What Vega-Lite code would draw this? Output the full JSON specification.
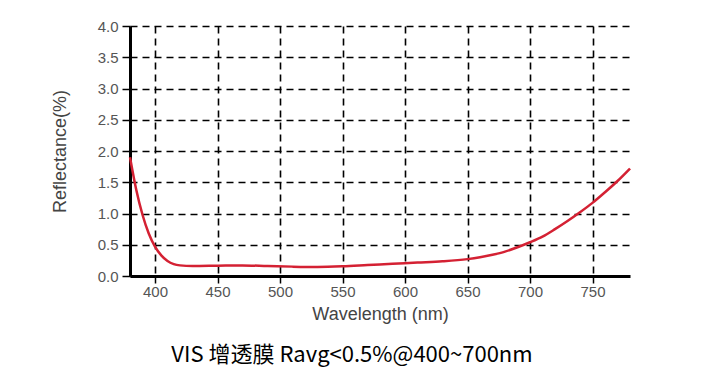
{
  "$schema": "https://vega.github.io/schema/vega-lite/v6.json",
  "width": 500,
  "height": 250,
  "autosize": {"type": "none"},
  "padding": {"left": 130, "top": 26, "right": 95, "bottom": 98},
  "background": "white",
  "title": {
    "text": "VIS 增透膜 Ravg<0.5%@400~700nm",
    "orient": "bottom",
    "anchor": "middle",
    "offset": 22,
    "dx": -28,
    "font": "Noto Sans CJK SC",
    "fontSize": 22,
    "fontWeight": "normal",
    "color": "black"
  },
  "data": {
    "values": [
      {"wl": 380, "r": 1.9},
      {"wl": 385, "r": 1.38},
      {"wl": 390, "r": 0.98},
      {"wl": 395, "r": 0.68},
      {"wl": 400, "r": 0.47},
      {"wl": 405, "r": 0.33},
      {"wl": 410, "r": 0.24},
      {"wl": 415, "r": 0.19},
      {"wl": 420, "r": 0.17},
      {"wl": 430, "r": 0.16},
      {"wl": 450, "r": 0.165},
      {"wl": 470, "r": 0.17},
      {"wl": 490, "r": 0.16},
      {"wl": 510, "r": 0.15},
      {"wl": 530, "r": 0.145},
      {"wl": 550, "r": 0.155},
      {"wl": 570, "r": 0.175},
      {"wl": 590, "r": 0.195},
      {"wl": 610, "r": 0.215},
      {"wl": 630, "r": 0.235},
      {"wl": 650, "r": 0.27},
      {"wl": 660, "r": 0.3},
      {"wl": 670, "r": 0.34},
      {"wl": 680, "r": 0.39},
      {"wl": 690, "r": 0.46},
      {"wl": 700, "r": 0.54},
      {"wl": 710, "r": 0.63},
      {"wl": 720, "r": 0.75},
      {"wl": 730, "r": 0.88},
      {"wl": 740, "r": 1.02},
      {"wl": 750, "r": 1.17},
      {"wl": 760, "r": 1.34},
      {"wl": 770, "r": 1.52},
      {"wl": 780, "r": 1.72}
    ]
  },
  "mark": {"type": "line", "color": "#d42133", "strokeWidth": 2.5, "interpolate": "monotone"},
  "encoding": {
    "x": {
      "field": "wl",
      "type": "quantitative",
      "scale": {"domain": [380, 780], "nice": false, "zero": false},
      "axis": {
        "values": [400, 450, 500, 550, 600, 650, 700, 750],
        "title": "Wavelength (nm)",
        "titleFont": "Liberation Sans",
        "titleFontSize": 18,
        "titleFontWeight": "normal",
        "titleColor": "#444",
        "titlePadding": 6,
        "labelFont": "Liberation Sans",
        "labelFontSize": 15,
        "labelColor": "#555",
        "labelPadding": 1,
        "domainColor": "black",
        "domainWidth": 3,
        "tickColor": "black",
        "tickWidth": 1.5,
        "tickSize": 7,
        "grid": true,
        "gridColor": "black",
        "gridDash": [7, 5],
        "gridWidth": 1.6,
        "gridOpacity": 1
      }
    },
    "y": {
      "field": "r",
      "type": "quantitative",
      "scale": {"domain": [0, 4], "nice": false},
      "axis": {
        "values": [0, 0.5, 1, 1.5, 2, 2.5, 3, 3.5, 4],
        "format": ".1f",
        "title": "Reflectance(%)",
        "titleFont": "Liberation Sans",
        "titleFontSize": 18,
        "titleFontWeight": "normal",
        "titleColor": "#444",
        "titlePadding": 28,
        "labelFont": "Liberation Sans",
        "labelFontSize": 15,
        "labelColor": "#555",
        "labelPadding": 4,
        "domainColor": "black",
        "domainWidth": 3,
        "tickColor": "black",
        "tickWidth": 1.5,
        "tickSize": 8,
        "grid": true,
        "gridColor": "black",
        "gridDash": [7, 5],
        "gridWidth": 1.6,
        "gridOpacity": 1
      }
    }
  },
  "config": {"view": {"stroke": null}}
}
